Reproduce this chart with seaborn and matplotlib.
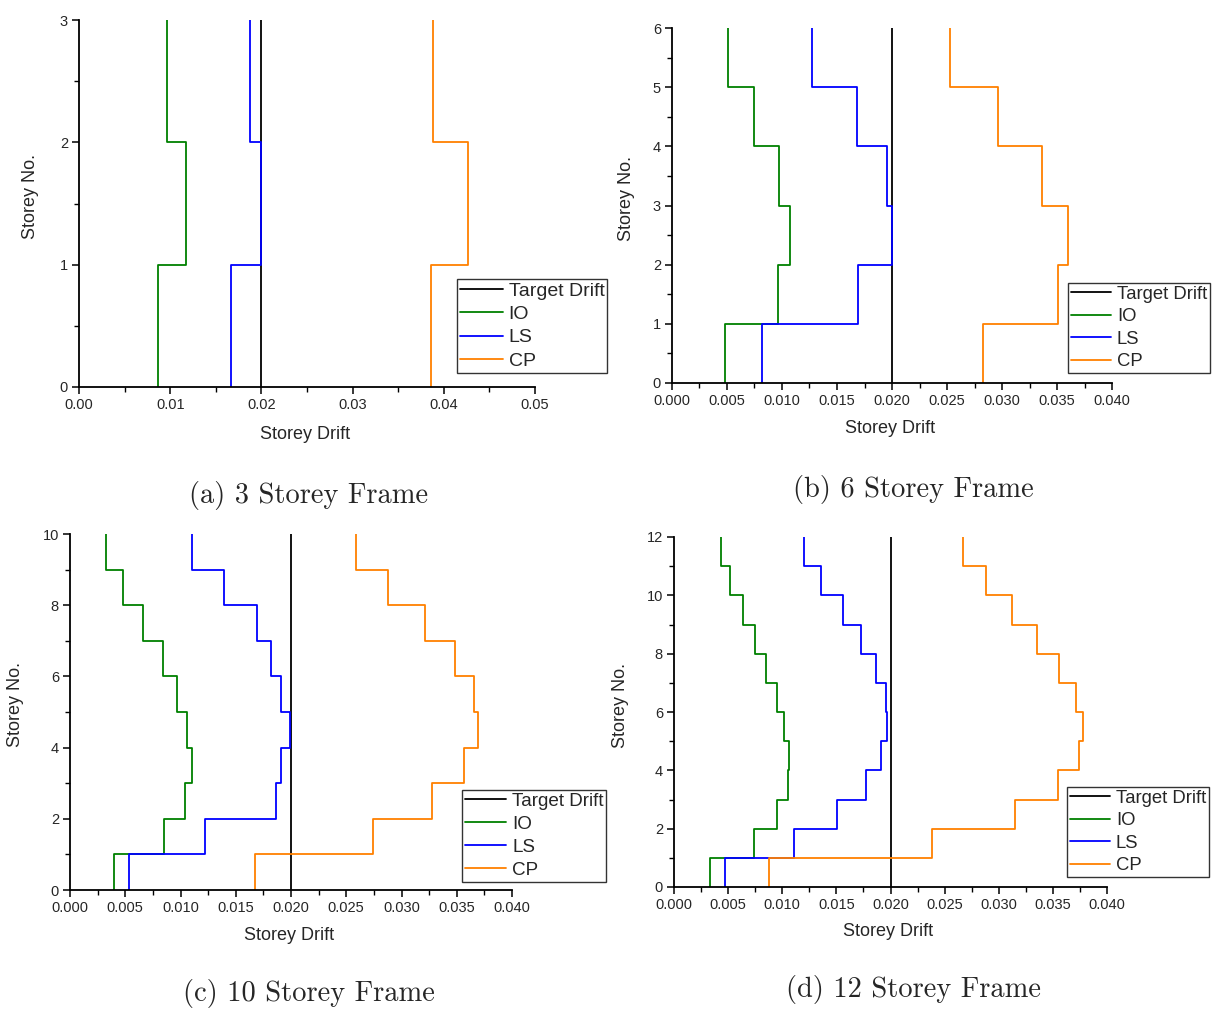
import numpy as np
import pandas as pd
import matplotlib
matplotlib.use("Agg")
import matplotlib.pyplot as plt
import seaborn as sns
from matplotlib.ticker import MultipleLocator, FormatStrFormatter

# ---------------- data ----------------
series_names = ["Target Drift", "IO", "LS", "CP"]
series_colors = ["#000000", "#008000", "#0000FF", "#FF8000"]
target_drift = 0.020

io_3 = [0.0087, 0.0117, 0.0097]
ls_3 = [0.0167, 0.0200, 0.0187]
cp_3 = [0.0386, 0.0426, 0.0388]

io_6 = [0.0048, 0.0096, 0.0107, 0.0097, 0.0075, 0.0051]
ls_6 = [0.0082, 0.0169, 0.0200, 0.0195, 0.0168, 0.0127]
cp_6 = [0.0283, 0.0351, 0.0360, 0.0336, 0.0296, 0.0253]

io_10 = [0.0040, 0.0085, 0.0104, 0.0110, 0.0106, 0.0097, 0.0084, 0.0066, 0.0048, 0.0033]
ls_10 = [0.0053, 0.0122, 0.0186, 0.0191, 0.0199, 0.0191, 0.0182, 0.0169, 0.0139, 0.0110]
cp_10 = [0.0167, 0.0274, 0.0328, 0.0357, 0.0369, 0.0366, 0.0348, 0.0321, 0.0288, 0.0259]

io_12 = [0.0033, 0.0074, 0.0095, 0.0105, 0.0106, 0.0102, 0.0095, 0.0085, 0.0075, 0.0064, 0.0052, 0.0043]
ls_12 = [0.0047, 0.0111, 0.0151, 0.0177, 0.0191, 0.0197, 0.0196, 0.0187, 0.0173, 0.0156, 0.0136, 0.0120]
cp_12 = [0.0088, 0.0238, 0.0315, 0.0355, 0.0374, 0.0378, 0.0371, 0.0356, 0.0335, 0.0312, 0.0288, 0.0267]

captions = ["(a) 3 Storey Frame", "(b) 6 Storey Frame",
            "(c) 10 Storey Frame", "(d) 12 Storey Frame"]
x_label = "Storey Drift"
y_label = "Storey No."

# ---------------- style ----------------
sns.set_style("ticks")
plt.rcParams["font.family"] = ["Liberation Sans", "DejaVu Sans"]

W, H = 1215, 1010
fig = plt.figure(figsize=(W / 100, H / 100), dpi=100)
palette = dict(zip(series_names, series_colors))

panels = [
    dict(io=io_3, ls=ls_3, cp=cp_3, xmax=0.05, xmaj=0.01, xmin=0.005, fmt="%.2f",
         ymaj=1, ymin=0.5, box=(79, 20, 535, 387), leg=(457, 279), legfs=14,
         cap=(309, 496), ylc=-0.088, xlc=-0.105),
    dict(io=io_6, ls=ls_6, cp=cp_6, xmax=0.04, xmaj=0.005, xmin=0.0025, fmt="%.3f",
         ymaj=1, ymin=0.5, box=(672, 28, 1112, 383), leg=(1068, 283), legfs=13.3,
         cap=(913, 489), ylc=-0.084, xlc=-0.105),
    dict(io=io_10, ls=ls_10, cp=cp_10, xmax=0.04, xmaj=0.005, xmin=0.0025, fmt="%.3f",
         ymaj=2, ymin=1, box=(70, 534, 512, 890), leg=(462, 790), legfs=13.6,
         cap=(309, 993), ylc=-0.104, xlc=-0.105),
    dict(io=io_12, ls=ls_12, cp=cp_12, xmax=0.04, xmaj=0.005, xmin=0.0025, fmt="%.3f",
         ymaj=2, ymin=1, box=(674, 537, 1107, 887), leg=(1067, 787), legfs=13.3,
         cap=(914, 990), ylc=-0.104, xlc=-0.104),
]


def step_frame(name, vals):
    vals = np.asarray(vals)
    n = len(vals)
    levels = np.repeat(np.arange(n + 1), 2)[1:-1]
    return pd.DataFrame({"drift": np.repeat(vals, 2), "level": levels, "series": name})


for p, cap in zip(panels, captions):
    x0, y0, x1, y1 = p["box"]
    ax = fig.add_axes([x0 / W, 1 - y1 / H, (x1 - x0) / W, (y1 - y0) / H])
    n = len(p["io"])
    df = pd.concat([
        pd.DataFrame({"drift": [target_drift, target_drift], "level": [0, n],
                      "series": "Target Drift"}),
        step_frame("IO", p["io"]),
        step_frame("LS", p["ls"]),
        step_frame("CP", p["cp"]),
    ], ignore_index=True)
    sns.lineplot(data=df, x="drift", y="level", hue="series", hue_order=series_names,
                 palette=palette, sort=False, estimator=None, legend=False,
                 linewidth=1.3, ax=ax)
    ax.set_xlim(0, p["xmax"])
    ax.set_ylim(0, n)
    ax.xaxis.set_major_locator(MultipleLocator(p["xmaj"]))
    ax.xaxis.set_minor_locator(MultipleLocator(p["xmin"]))
    ax.xaxis.set_major_formatter(FormatStrFormatter(p["fmt"]))
    ax.yaxis.set_major_locator(MultipleLocator(p["ymaj"]))
    ax.yaxis.set_minor_locator(MultipleLocator(p["ymin"]))
    sns.despine(ax=ax)
    for s in ("left", "bottom"):
        ax.spines[s].set_linewidth(1.3)
        ax.spines[s].set_color("black")
    ax.tick_params(which="major", direction="out", length=5, width=1.1,
                   labelsize=10.5, color="black", pad=3)
    ax.tick_params(which="minor", direction="out", length=3.5, width=1.0, color="black")
    ax.set_xlabel(x_label, fontsize=13)
    ax.set_ylabel(y_label, fontsize=13)
    ax.yaxis.set_label_coords(p["ylc"], 0.52)
    ax.xaxis.set_label_coords(0.495, p["xlc"])
    ax.set_facecolor("white")

    handles = ax.get_lines()[:4]
    lx, ly = p["leg"]
    leg = ax.legend(handles, series_names, loc="upper left",
                    bbox_to_anchor=(lx / W, 1 - ly / H), bbox_transform=fig.transFigure,
                    borderaxespad=0, fontsize=p["legfs"], frameon=True, fancybox=False,
                    framealpha=1, edgecolor="#333333", handlelength=2.2,
                    handletextpad=0.3, borderpad=0.15, labelspacing=0.3)
    leg.get_frame().set_linewidth(1.0)

    fig.text(p["cap"][0] / W, 1 - p["cap"][1] / H, cap, ha="center", va="center",
             fontsize=20.5, family=["cmr10", "DejaVu Serif"])

fig.savefig("out.png", dpi=100, facecolor="white")
